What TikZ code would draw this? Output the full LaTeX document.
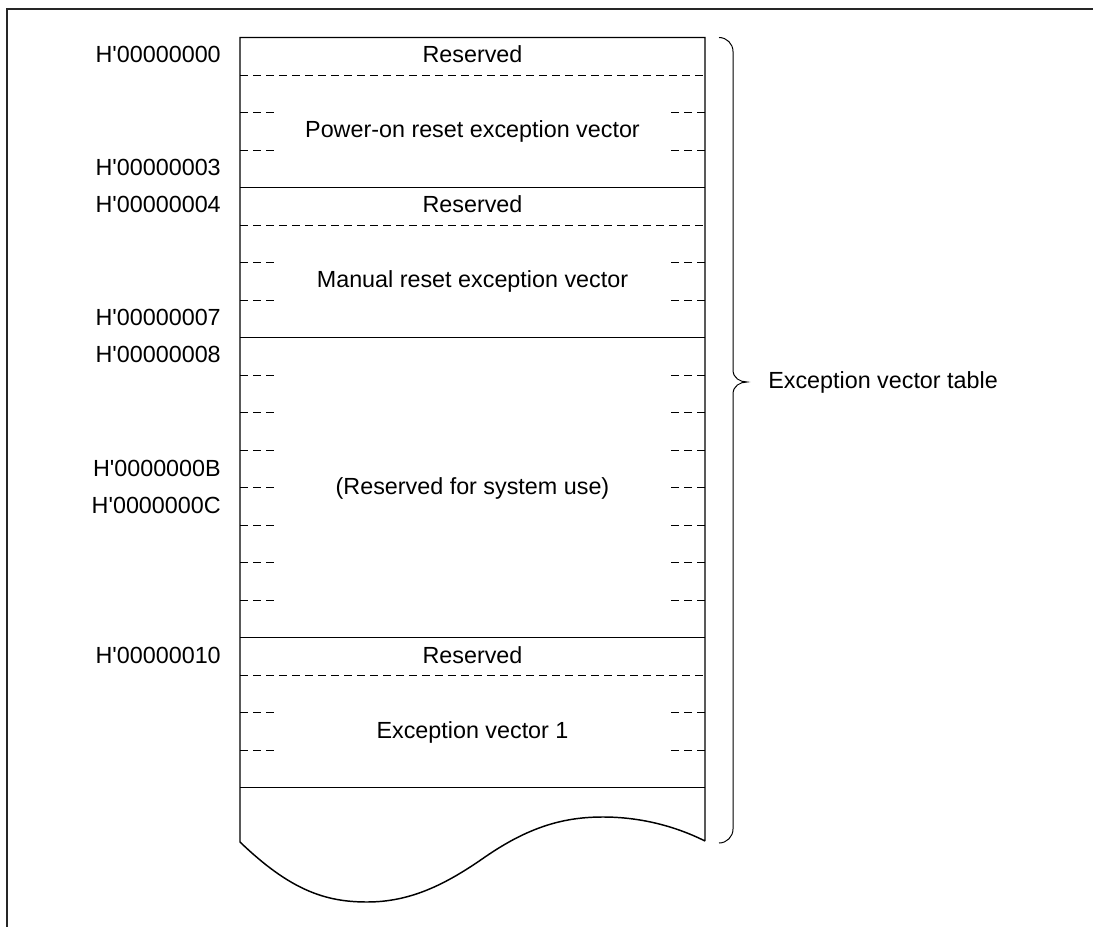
\documentclass[tikz,border=0pt]{standalone}
\usepackage{fontspec}
\setmainfont{Liberation Sans}[Ligatures=TeXOff]
\usetikzlibrary{positioning}

\begin{document}
\begin{tikzpicture}[x=0.75pt, y=-0.75pt,
    addr/.style={anchor=base east, inner sep=0pt, font=\fontsize{17.5}{20}\selectfont},
    cell/.style={anchor=base, inner sep=0pt, font=\fontsize{17.5}{20}\selectfont},
    solidsep/.style={line width=1.1pt},
    longdash/.style={line width=0.6pt, dash pattern=on 6pt off 3.75pt},
    shortdash/.style={line width=0.6pt, dash pattern=on 6pt off 3.75pt}]
    \useasboundingbox (0,0) rectangle (1093,927);
    % frame
    \draw[line width=1.1pt, black!85] (1093,9) -- (7,9) -- (7,927);

    % table outline with wavy cut
    \draw[solidsep] (240,842) -- (240,37.5) -- (705,37.5) -- (705,841)
        (240,842) .. controls (290,890) and (325,902) .. (367,902)
        .. controls (410,902) and (445,885) .. (485,857)
        .. controls (530,826) and (565,817) .. (603,817)
        .. controls (640,817) and (675,826) .. (705,841);

    % solid separators
    \foreach \i in {4,8,16,20}
        \draw[solidsep] (240,37.5+37.5*\i) -- (705,37.5+37.5*\i);

    % long dashed separators
    \foreach \i in {1,5,17}
        \draw[longdash] (240,37.5+37.5*\i) -- (705,37.5+37.5*\i);

    % short dashes at both sides
    \foreach \i in {2,3,6,7,9,10,11,12,13,14,15,18,19} {
        \draw[shortdash] (240,37.5+37.5*\i) -- (278,37.5+37.5*\i);
        \draw[shortdash] (705,37.5+37.5*\i) -- (667,37.5+37.5*\i);
    }

    % addresses
    \node[addr] (a0) at (221,63)  {H'00000000};
    \node[addr] (a3) at (221,176) {H'00000003};
    \node[addr] (a4) at (221,213) {H'00000004};
    \node[addr] (a7) at (221,326) {H'00000007};
    \node[addr] (a8) at (221,363) {H'00000008};
    \node[addr] (aB) at (221,476) {H'0000000B};
    \node[addr] (aC) at (221,513) {H'0000000C};
    \node[addr] (a10) at (221,663) {H'00000010};

    % cell texts
    \node[cell] (res0) at (472.5,63)  {Reserved};
    \node[cell] (pwr)  at (472.5,138) {Power-on reset exception vector};
    \node[cell] (res4) at (472.5,213) {Reserved};
    \node[cell] (man)  at (472.5,288) {Manual reset exception vector};
    \node[cell] (sys)  at (472.5,494) {(Reserved for system use)};
    \node[cell] (res10) at (472.5,663) {Reserved};
    \node[cell] (ev1)  at (472.5,738) {Exception vector 1};

    % brace
    \draw[line width=0.75pt] (719,37.5) arc[start angle=-90, end angle=0, radius=14]
        -- (733,370) .. controls (733,378) and (740,382) .. (747,382)
        .. controls (740,382) and (733,386) .. (733,394)
        -- (733,829) arc[start angle=0, end angle=90, radius=14];
    \node[anchor=west, inner sep=0pt, font=\fontsize{17.5}{20}\selectfont] (tbl) at (768,382) {Exception vector table};
\end{tikzpicture}
\end{document}
